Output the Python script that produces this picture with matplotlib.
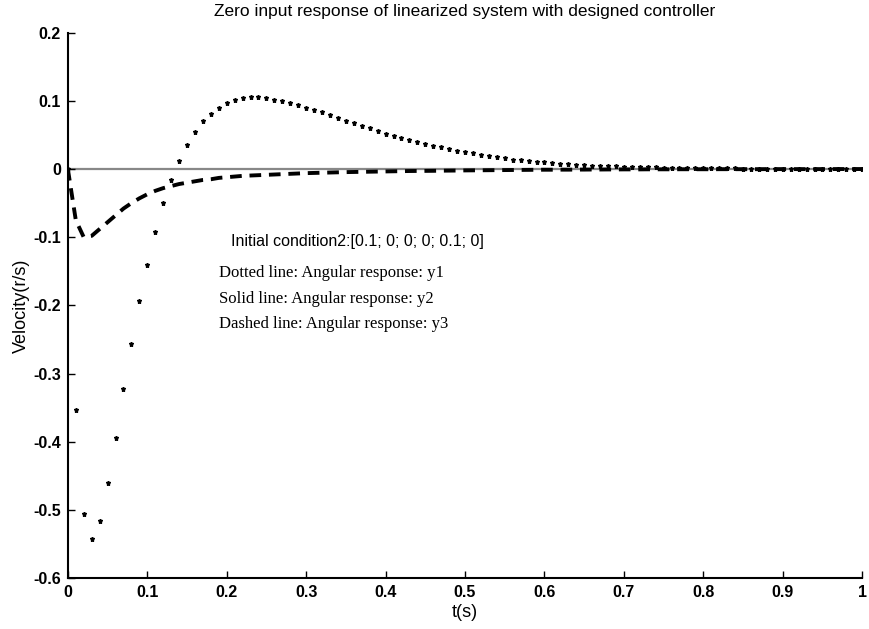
import matplotlib.pyplot as plt
import numpy as np

t = np.round(np.arange(0, 1.001, 0.01), 2)

# dotted line (asterisks): y1
y1 = [0.0, -0.354, -0.506, -0.543, -0.516, -0.460, -0.395, -0.323, -0.257, -0.194,
      -0.141, -0.093, -0.050, -0.016, 0.012, 0.035, 0.055, 0.070, 0.081, 0.090,
      0.097, 0.101, 0.104, 0.105, 0.105, 0.104, 0.102, 0.100, 0.097, 0.094,
      0.090, 0.087, 0.083, 0.079, 0.075, 0.071, 0.067, 0.063, 0.060, 0.056,
      0.052, 0.049, 0.046, 0.043, 0.040, 0.037, 0.034, 0.032, 0.029, 0.027,
      0.025, 0.023, 0.021, 0.019, 0.017, 0.016, 0.014, 0.013, 0.012, 0.011,
      0.010, 0.009, 0.008, 0.007, 0.0065, 0.006, 0.005, 0.0048, 0.0043, 0.004,
      0.0035, 0.0032, 0.0029, 0.0026, 0.0023, 0.0021, 0.0019, 0.0017, 0.0015, 0.0013,
      0.0012, 0.0011, 0.001, 0.0009, 0.0008, 0.0007, 0.0006, 0.0005, 0.0005, 0.0004,
      0.0004, 0.0003, 0.0003, 0.0003, 0.0002, 0.0002, 0.0002, 0.0002, 0.0001, 0.0001,
      0.0001]

# solid line: y2 (stays at zero)
y2 = np.zeros(len(t))

# dashed line: y3
y3 = [0.0, -0.075, -0.100, -0.098, -0.088, -0.078, -0.068, -0.058, -0.050, -0.043,
      -0.037, -0.032, -0.028, -0.025, -0.022, -0.020, -0.018, -0.016, -0.015, -0.013,
      -0.012, -0.011, -0.010, -0.0095, -0.009, -0.0085, -0.008, -0.0075, -0.007, -0.0065,
      -0.006, -0.0057, -0.0054, -0.0051, -0.0048, -0.0045, -0.0043, -0.0041, -0.0039, -0.0037,
      -0.0035, -0.0033, -0.0031, -0.0029, -0.0028, -0.0027, -0.0026, -0.0024, -0.0023, -0.0022,
      -0.002, -0.0019, -0.0018, -0.0017, -0.0016, -0.0015, -0.0014, -0.0013, -0.0012, -0.0011,
      -0.001, -0.001, -0.0009, -0.0009, -0.0008, -0.0008, -0.0007, -0.0007, -0.0006, -0.0006,
      -0.0005, -0.0005, -0.0005, -0.0004, -0.0004, -0.0004, -0.0004, -0.0003, -0.0003, -0.0003,
      -0.0003, -0.0003, -0.0002, -0.0002, -0.0002, -0.0002, -0.0002, -0.0002, -0.0001, -0.0001,
      -0.0001, -0.0001, -0.0001, -0.0001, -0.0001, -0.0001, -0.0001, 0.0, 0.0, 0.0,
      0.0]

xticks = np.round(np.arange(0, 1.01, 0.1), 1)
xlabels = ['0', '0.1', '0.2', '0.3', '0.4', '0.5', '0.6', '0.7', '0.8', '0.9', '1']
yticks = np.round(np.arange(-0.6, 0.21, 0.1), 1)
ylabels = ['-0.6', '-0.5', '-0.4', '-0.3', '-0.2', '-0.1', '0', '0.1', '0.2']

fig = plt.figure(figsize=(8.7, 6.29), dpi=100)
ax = fig.add_axes([0.078, 0.081, 0.913, 0.867])

ax.plot(t, y2, '-', color='#888888', lw=1.6, zorder=1)
ax.plot(t, y3, '--', color='black', lw=2.8, dashes=(3, 2), zorder=2)
ax.plot(t, y1, '*', color='black', ms=3.6, zorder=3)

ax.set_xlim(0, 1)
ax.set_ylim(-0.6, 0.2)
ax.set_xticks(xticks)
ax.set_xticklabels(xlabels)
ax.set_yticks(yticks)
ax.set_yticklabels(ylabels)
ax.tick_params(direction='in', length=5, labelsize=11.5, width=1)
ax.tick_params(axis='x', pad=5)
ax.tick_params(axis='y', pad=5)
for lab in ax.get_xticklabels() + ax.get_yticklabels():
    lab.set_family('Liberation Sans')
    lab.set_weight('bold')
ax.spines['top'].set_visible(False)
ax.spines['right'].set_visible(False)
ax.spines['left'].set_linewidth(1.5)
ax.spines['bottom'].set_linewidth(1.5)

ax.set_title('Zero input response of linearized system with designed controller',
             fontsize=12.5, family='Liberation Sans', weight='medium', pad=12)
ax.set_xlabel('t(s)', fontsize=13, family='Liberation Sans', labelpad=3)
ax.set_ylabel('Velocity(r/s)', fontsize=13, family='Liberation Sans', labelpad=2)

ax.text(0.205, -0.106, 'Initial condition2:[0.1; 0; 0; 0; 0.1; 0]',
        fontsize=11.5, family='Liberation Sans', va='center')
notes = ['Dotted line: Angular response: y1',
         'Solid line: Angular response: y2',
         'Dashed line: Angular response: y3']
for i, s in enumerate(notes):
    ax.text(0.19, -0.153 - 0.037 * i, s, fontsize=12,
            family='Liberation Serif', va='center')

fig.savefig('out.png')
